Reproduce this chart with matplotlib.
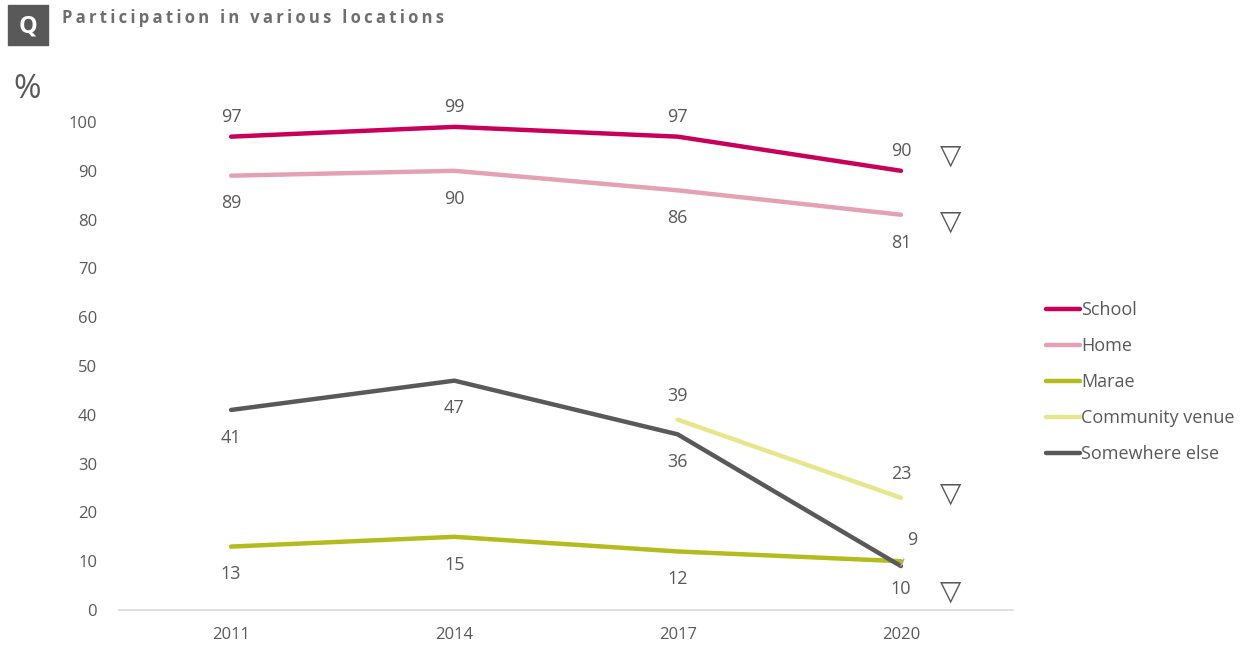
import matplotlib
matplotlib.use("Agg")
import matplotlib.pyplot as plt
import matplotlib.patches as mpatches

years = ["2011", "2014", "2017", "2020"]
school = [97, 99, 97, 90]
home = [89, 90, 86, 81]
marae = [13, 15, 12, 10]
community = [None, None, 39, 23]
elsewhere = [41, 47, 36, 9]
# rows flagged with a significant decrease in 2020
flag_values = [93.2, 79.7, 23.8, 3.7]

GREY = "#595959"
series = [
    ("School", school, "#C8005A", 14),
    ("Home", home, "#E3A2B3", -20),
    ("Marae", marae, "#B3BC1C", -20),
    ("Community venue", community, "#E6E68C", 17),
    ("Somewhere else", elsewhere, "#595959", -20),
]

plt.rcParams["font.family"] = ["Open Sans", "DejaVu Sans"]
fig = plt.figure(figsize=(12.47, 6.5), dpi=100)
ax = fig.add_axes([0.0958, 0.0615, 0.7162, 0.7508])

x = list(range(len(years)))
for name, vals, col, off in series:
    xs = [i for i, v in zip(x, vals) if v is not None]
    ys = [v for v in vals if v is not None]
    ax.plot(xs, ys, color=col, lw=3.2, label=name, solid_capstyle="round")
    for i, v in zip(xs, ys):
        if name == "Somewhere else" and i == 3:
            continue
        ax.annotate(str(v), (i, v), xytext=(0, off), textcoords="offset points",
                    ha="center", va="center", fontsize=13, color=GREY)

# leader line for the small 2020 value
ax.annotate(str(elsewhere[3]), (3, elsewhere[3]), xytext=(8, 19), textcoords="offset points",
            ha="center", va="center", fontsize=13, color=GREY,
            arrowprops=dict(arrowstyle="-", color="#A6A6A6", lw=1, shrinkA=6, shrinkB=0))

for v in flag_values:
    ax.text(3.224, v, "\u25BD", ha="center", va="center", fontsize=20,
            color=GREY, family="DejaVu Sans", clip_on=False)

ax.set_xlim(-0.5, 3.5)
ax.set_ylim(0, 100)
ax.set_xticks(x)
ax.set_xticklabels(years)
ax.set_yticks(range(0, 101, 10))
ax.tick_params(length=0, labelsize=12, colors=GREY, pad=12)
ax.tick_params(axis="y", pad=16)
for s in ["top", "right", "left"]:
    ax.spines[s].set_visible(False)
ax.spines["bottom"].set_color("#D9D9D9")
ax.spines["bottom"].set_linewidth(1.2)

leg = fig.legend(loc="upper left", bbox_to_anchor=(0.826, 0.562), frameon=False,
                 fontsize=13, handlelength=1.85, handletextpad=0.1, labelspacing=1.0,
                 labelcolor=GREY)

# header
fig.patches.append(mpatches.Rectangle((8 / 1247, 1 - 45 / 650), 40 / 1247, 40 / 650,
                                      transform=fig.transFigure, color="#595959"))
fig.text(28 / 1247, 1 - 26 / 650, "Q", ha="center", va="center", fontsize=17,
         fontweight="bold", color="white")
title = "Participation in various locations"
fig.text(62 / 1247, 1 - 18 / 650, "\u200a\u200a".join(title), ha="left", va="center",
         fontsize=12, fontweight="bold", color="#6E6E6E")
fig.text(13 / 1247, 1 - 90 / 650, "%", ha="left", va="center", fontsize=24, color=GREY)

fig.savefig("out.png", dpi=100)
